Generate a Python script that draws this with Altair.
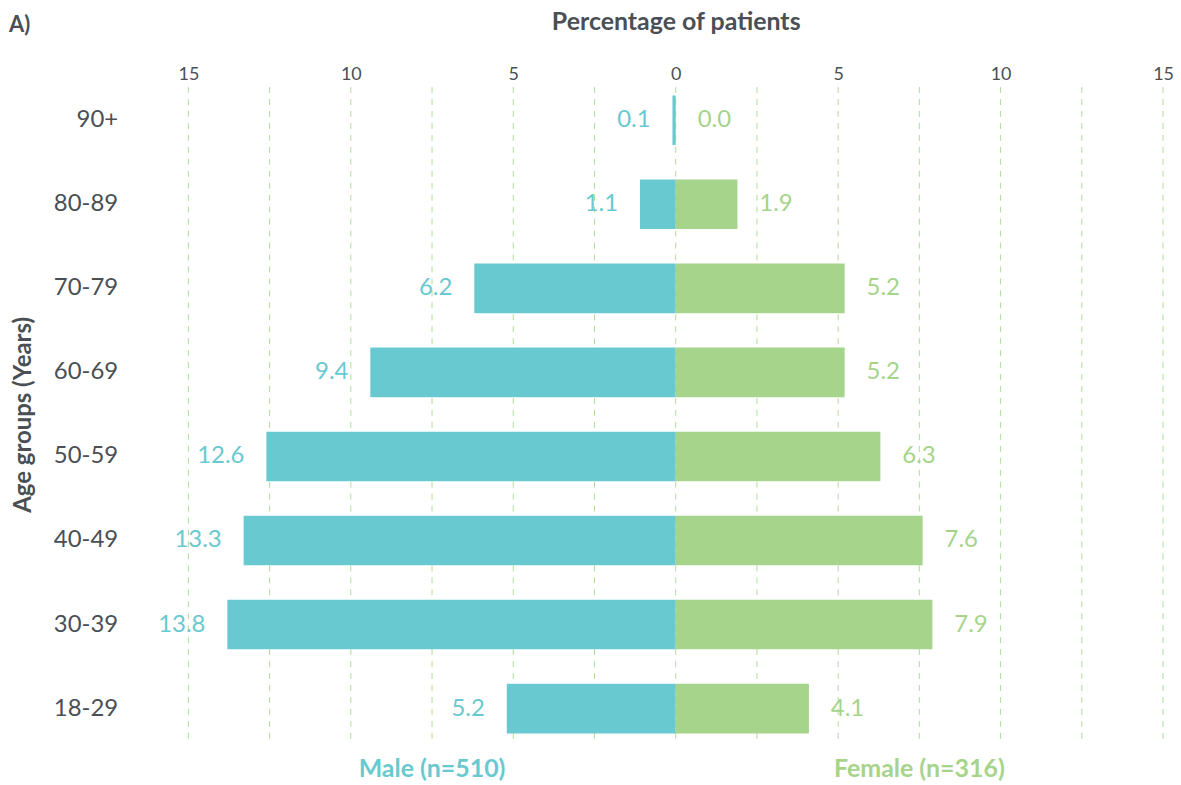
import altair as alt
import pandas as pd

# ---- data ----
AGE_GROUPS = ["90+", "80-89", "70-79", "60-69", "50-59", "40-49", "30-39", "18-29"]
MALE = [0.1, 1.1, 6.2, 9.4, 12.6, 13.3, 13.8, 5.2]
FEMALE = [0.0, 1.9, 5.2, 5.2, 6.3, 7.6, 7.9, 4.1]
SEXES = ["Male", "Female"]
SEX_LABELS = ["Male (n=510)", "Female (n=316)"]
AXIS_TICKS = [-15, -12.5, -10, -7.5, -5, -2.5, 0, 2.5, 5, 7.5, 10, 12.5, 15]
SEX_LABEL_POS = [-7.5, 7.5]

TEAL = "#69C9D0"
GREEN = "#A5D48A"
GRID = "#B2DD9B"
TEXT = "#4A4F55"
FONT = "Lato"
W, H = 978, 657

rows = []
for age, m, f in zip(AGE_GROUPS, MALE, FEMALE):
    rows.append({"age": age, "sex": "Male", "value": m, "signed": -m})
    rows.append({"age": age, "sex": "Female", "value": f, "signed": f})
df = pd.DataFrame(rows)
grid_df = pd.DataFrame({"signed": AXIS_TICKS})
sex_df = pd.DataFrame({"sex": SEXES, "label": SEX_LABELS, "signed": SEX_LABEL_POS})

x_scale = alt.Scale(domain=[-15, 15], nice=False, zero=False)
x_axis = alt.Axis(
    orient="top",
    values=AXIS_TICKS,
    labelExpr="datum.value % 5 === 0 ? format(abs(datum.value), 'd') : ''",
    labelFontSize=18,
    labelColor=TEXT,
    labelFont=FONT,
    labelPadding=4,
    labelFlush=False,
    domain=False,
    ticks=False,
    grid=False,
    title="Percentage of patients",
    titleFontSize=25,
    titleFontWeight="bold",
    titleColor=TEXT,
    titleFont=FONT,
    titlePadding=31,
)
y_axis = alt.Axis(
    title="Age groups (Years)",
    titleFontSize=24,
    titleFontWeight="bold",
    titleColor=TEXT,
    titleFont=FONT,
    titlePadding=18,
    labelFontSize=24,
    labelColor=TEXT,
    labelFont=FONT,
    labelPadding=71,
    domain=False,
    ticks=False,
    grid=False,
)
y_scale = alt.Scale(paddingInner=0.41, paddingOuter=0.1)


def x_enc():
    return alt.X("signed:Q", scale=x_scale, axis=x_axis)


def y_enc():
    return alt.Y("age:N", sort=AGE_GROUPS, scale=y_scale, axis=y_axis)


color_scale = alt.Scale(domain=SEXES, range=[TEAL, GREEN])
color_enc = alt.Color("sex:N", scale=color_scale, legend=None)

grid = alt.Chart(grid_df).mark_rule(color=GRID, strokeDash=[6, 6], strokeWidth=1).encode(
    x=x_enc()
)

bars = alt.Chart(df).mark_bar().encode(x=x_enc(), y=y_enc(), color=color_enc)

male_text = (
    alt.Chart(df)
    .transform_filter("datum.sex === 'Male'")
    .mark_text(align="right", baseline="middle", dx=-22, fontSize=24, font=FONT, color=TEAL)
    .encode(x=x_enc(), y=y_enc(), text=alt.Text("value:Q", format=".1f"))
)

female_text = (
    alt.Chart(df)
    .transform_filter("datum.sex === 'Female'")
    .mark_text(align="left", baseline="middle", dx=22, fontSize=24, font=FONT, color=GREEN)
    .encode(x=x_enc(), y=y_enc(), text=alt.Text("value:Q", format=".1f"))
)

sex_labels = (
    alt.Chart(sex_df)
    .mark_text(align="center", baseline="middle", fontSize=25, fontWeight="bold", font=FONT)
    .encode(x=x_enc(), y=alt.value(H + 27), text="label:N", color=color_enc)
)

chart = (
    alt.layer(grid, bars, male_text, female_text, sex_labels)
    .properties(
        width=W,
        height=H,
        autosize=alt.AutoSizeParams(type="none"),
        padding={"left": 181, "top": 78, "right": 10, "bottom": 38},
        view=alt.ViewBackground(strokeWidth=0, stroke="transparent"),
        title=alt.TitleParams(
            text="A)",
            anchor="start",
            frame="group",
            fontSize=22,
            fontWeight="bold",
            color=TEXT,
            font=FONT,
            dx=-180,
            offset=-28,
        ),
    )
    .configure_view(strokeWidth=0, stroke="transparent")
    .configure(
        background="white",
        style={"cell": {"stroke": "transparent", "strokeWidth": 0}},
    )
)

chart.save("out.html", embed_options={"renderer": "svg", "actions": False})
